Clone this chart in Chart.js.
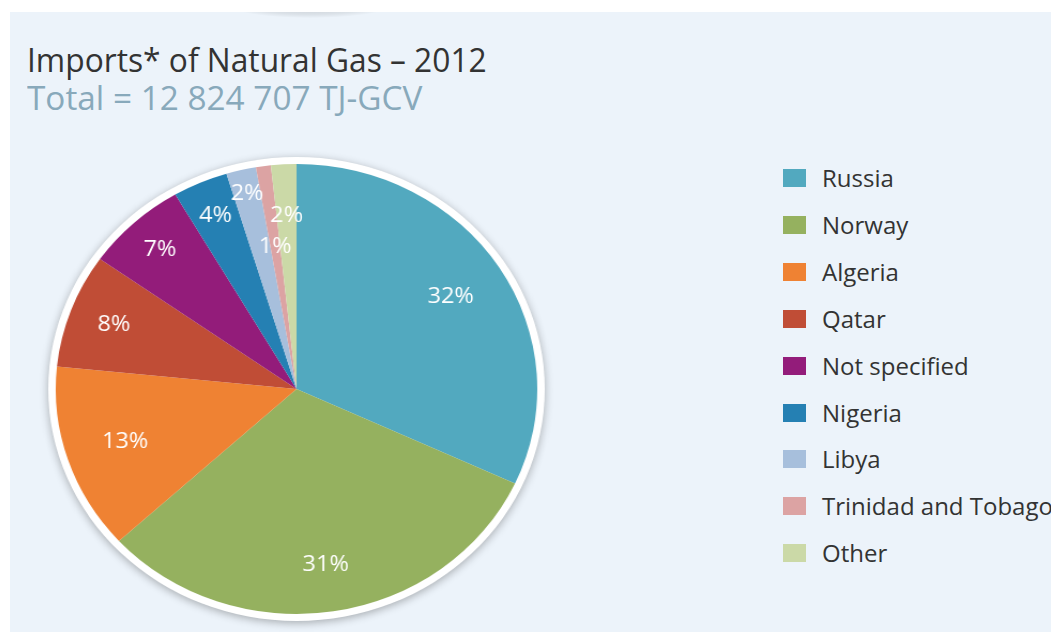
<!DOCTYPE html>
<html>
<head>
<meta charset="utf-8">
<script src="https://cdn.jsdelivr.net/npm/chart.js@4.4.1/dist/chart.umd.min.js"></script>
<style>
  html, body { margin: 0; padding: 0; background: #fff; }
  body { width: 1051px; height: 633px; position: relative; overflow: hidden; font-family: "Open Sans", "Noto Sans", sans-serif; }
  .panel { position: absolute; left: 10px; top: 12px; width: 1041px; height: 620px; background: #ecf3fa; overflow: hidden; }
  .top-shadow { position: absolute; left: 215px; top: -24px; width: 170px; height: 30px; border-radius: 50%;
    background: radial-gradient(ellipse at center, rgba(0,0,0,0.2) 0%, rgba(0,0,0,0.07) 55%, rgba(0,0,0,0) 72%); }
  .title, .subtitle { position: absolute; left: 17px; white-space: nowrap; transform-origin: 0 0; }
  .title { top: 26px; font-size: 32px; color: #333; }
  .subtitle { top: 64px; font-size: 32px; color: #88a9bb; }
  .pie-wrap { position: absolute; left: 29px; top: 139px; width: 500px; height: 500px; transform: scaleX(1.07); transform-origin: 0 0; }
  .legend { position: absolute; left: 783px; top: 0; }
  .legend-item { position: absolute; left: 0; height: 22px; white-space: nowrap; }
  .legend-box { position: absolute; left: 0; top: 2px; width: 23px; height: 18px; }
  .legend-text { position: absolute; left: 39px; top: -5px; font-size: 24px; color: #333; line-height: 32px; }
</style>
</head>
<body>
<div class="panel">
  <div class="top-shadow"></div>
  <div class="title" id="title">Imports* of Natural Gas – 2012</div>
  <div class="subtitle" id="subtitle">Total = 12 824 707 TJ-GCV</div>
</div>
<div class="pie-wrap"><canvas id="gasChart"></canvas></div>
<div class="legend" id="legend"></div>

<script>
// shares of total imports, in %
const countries = ['Russia', 'Norway', 'Algeria', 'Qatar', 'Not specified', 'Nigeria', 'Libya', 'Trinidad and Tobago', 'Other'];
const shares = [31.9, 31.3, 13.4, 8.2, 6.8, 3.7, 2.0, 1.0, 1.7];
const colors = ['#52a9bf', '#95b15f', '#ef8233', '#c04d36', '#931c7a', '#2580b3', '#a7bfdc', '#dca3a3', '#cbd9a7'];

// stretch the headings to the width of the original font
function fitWidth(id, w) {
  const el = document.getElementById(id);
  el.style.transform = 'scaleX(' + (w / el.offsetWidth) + ')';
}
fitWidth('title', 460);
fitWidth('subtitle', 395);

// white rim with drop shadow behind the pie
const rimPlugin = {
  id: 'rim',
  beforeDatasetsDraw(chart, args, opts) {
    const arc = chart.getDatasetMeta(0).data[0];
    if (!arc) return;
    const ctx = chart.ctx;
    ctx.save();
    ctx.shadowColor = 'rgba(0,0,0,0.3)';
    ctx.shadowBlur = 8;
    ctx.shadowOffsetY = 2;
    ctx.fillStyle = '#fff';
    ctx.beginPath();
    ctx.arc(arc.x, arc.y, arc.outerRadius + opts.width, 0, Math.PI * 2);
    ctx.fill();
    ctx.restore();
  }
};

// percentage labels inside the slices
const pctLabels = {
  id: 'pctLabels',
  afterDatasetsDraw(chart, args, opts) {
    const ctx = chart.ctx;
    const meta = chart.getDatasetMeta(0);
    ctx.save();
    ctx.fillStyle = '#fff';
    ctx.font = opts.font;
    ctx.textAlign = 'center';
    ctx.textBaseline = 'middle';
    meta.data.forEach((arc, i) => {
      const mid = (arc.startAngle + arc.endAngle) / 2;
      const r = arc.outerRadius * (opts.radius[i] || 0.8);
      const x = arc.x + Math.cos(mid) * r;
      const y = arc.y + Math.sin(mid) * r;
      ctx.fillText(Math.round(shares[i]) + '%', x, y);
    });
    ctx.restore();
  }
};

const chart = new Chart(document.getElementById('gasChart'), {
  type: 'pie',
  data: {
    labels: countries,
    datasets: [{
      data: shares,
      backgroundColor: colors,
      borderWidth: 0,
      hoverBorderWidth: 0,
      hoverOffset: 0
    }]
  },
  options: {
    responsive: true,
    maintainAspectRatio: false,
    animation: false,
    radius: '90%',
    layout: { padding: 0 },
    events: [],
    plugins: {
      legend: { display: false },
      tooltip: { enabled: false },
      rim: { width: 7 },
      pctLabels: {
        font: '22px "Open Sans", sans-serif',
        radius: [0.76, 0.79, 0.75, 0.81, 0.84, 0.84, 0.89, 0.64, 0.77]
      }
    }
  },
  plugins: [rimPlugin, pctLabels]
});

// html legend built from the chart's own legend items
const legendEl = document.getElementById('legend');
const items = Chart.overrides.pie.plugins.legend.labels.generateLabels(chart);
items.forEach((item, i) => {
  const row = document.createElement('div');
  row.className = 'legend-item';
  row.style.top = (167 + i * 46.9) + 'px';
  const box = document.createElement('div');
  box.className = 'legend-box';
  box.style.background = item.fillStyle;
  const txt = document.createElement('div');
  txt.className = 'legend-text';
  txt.textContent = item.text;
  row.appendChild(box);
  row.appendChild(txt);
  legendEl.appendChild(row);
});
</script>
</body>
</html>
